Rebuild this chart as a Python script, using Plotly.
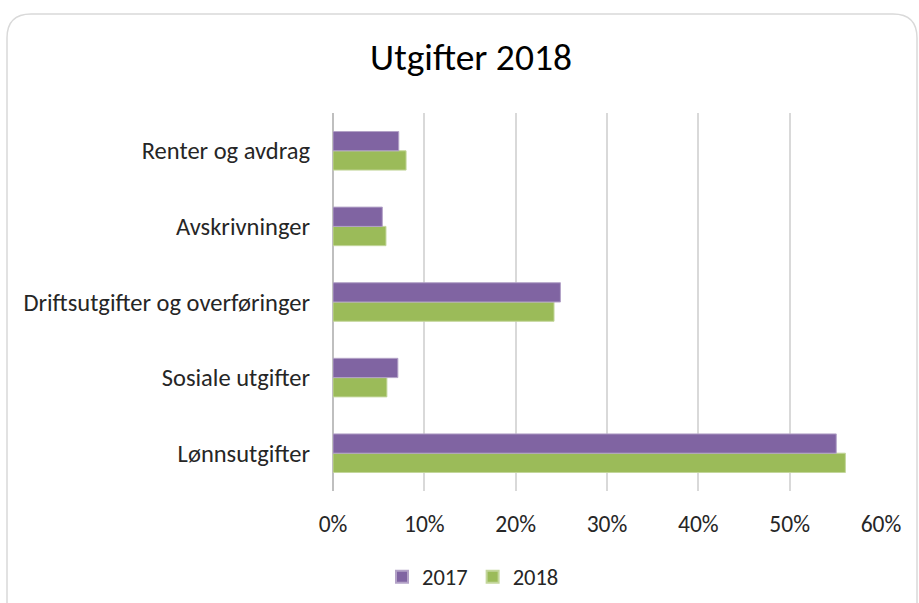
import plotly.graph_objects as go

categories = ["Lønnsutgifter", "Sosiale utgifter", "Driftsutgifter og overføringer",
              "Avskrivninger", "Renter og avdrag"]
values_2017 = [55.1, 7.1, 24.9, 5.4, 7.2]
values_2018 = [56.1, 5.9, 24.2, 5.8, 8.0]
tick_values = [0, 10, 20, 30, 40, 50, 60]
tick_labels = ["0%", "10%", "20%", "30%", "40%", "50%", "60%"]

W, H = 919, 603
L, R, T, B = 333, 881, 113, 491  # plot area in pixels

FONT = "Carlito, Calibri, Lato, sans-serif"

fig = go.Figure()
fig.add_trace(go.Bar(y=categories, x=values_2018, orientation="h", name="2018",
                     marker=dict(color="#9BBB59", line=dict(color="#c3d69b", width=1))))
fig.add_trace(go.Bar(y=categories, x=values_2017, orientation="h", name="2017",
                     marker=dict(color="#8064A2", line=dict(color="#b3a2c7", width=1))))

def px(x):
    return (x - L) / (R - L)

def py(y):
    return (B - y) / (B - T)

# rounded frame
x0, y0, x1, y1, r = 7, 14, 917, 620, 24
path = (f"M {px(x0)},{py(y0 + r)} "
        f"Q {px(x0)},{py(y0)} {px(x0 + r)},{py(y0)} "
        f"L {px(x1 - r)},{py(y0)} "
        f"Q {px(x1)},{py(y0)} {px(x1)},{py(y0 + r)} "
        f"L {px(x1)},{py(y1)} "
        f"L {px(x0)},{py(y1)} Z")

fig.update_layout(
    width=W, height=H,
    margin=dict(l=L, r=W - R, t=T, b=H - B, autoexpand=False),
    paper_bgcolor="white", plot_bgcolor="white",
    barmode="group", bargap=0.49, bargroupgap=0,
    font=dict(family=FONT, size=23, color="#262626"),
    title=dict(text="Utgifter 2018", x=471 / W, xref="container", xanchor="center",
               y=1 - 57 / H, yref="container", yanchor="middle",
               font=dict(family=FONT, size=37.5, color="#000000")),
    xaxis=dict(range=[0, 60], tickvals=tick_values, ticktext=tick_labels,
               automargin=False,
               showgrid=True, gridcolor="#d9d9d9", gridwidth=1.5,
               zeroline=True, zerolinecolor="#bfbfbf", zerolinewidth=1.5,
               showline=False, ticks="", ticklen=0, ticklabelstandoff=16,
               tickfont=dict(size=23.5, color="#262626"), fixedrange=True),
    yaxis=dict(type="category", showgrid=False, showline=False, zeroline=False,
               automargin=False,
               ticks="", ticklen=0, ticklabelstandoff=22,
               tickfont=dict(size=24.5, color="#262626"), fixedrange=True),
    legend=dict(orientation="h", traceorder="reversed", x=px(473), xanchor="center",
                y=py(577), yanchor="middle", font=dict(size=22.5, color="#262626"),
                itemwidth=30, itemsizing="constant", tracegroupgap=0),
    shapes=[dict(type="path", path=path, xref="paper", yref="paper",
                 line=dict(color="#d9d9d9", width=1.5), layer="below")],
    hovermode=False,
)

fig.write_html("out.html")
